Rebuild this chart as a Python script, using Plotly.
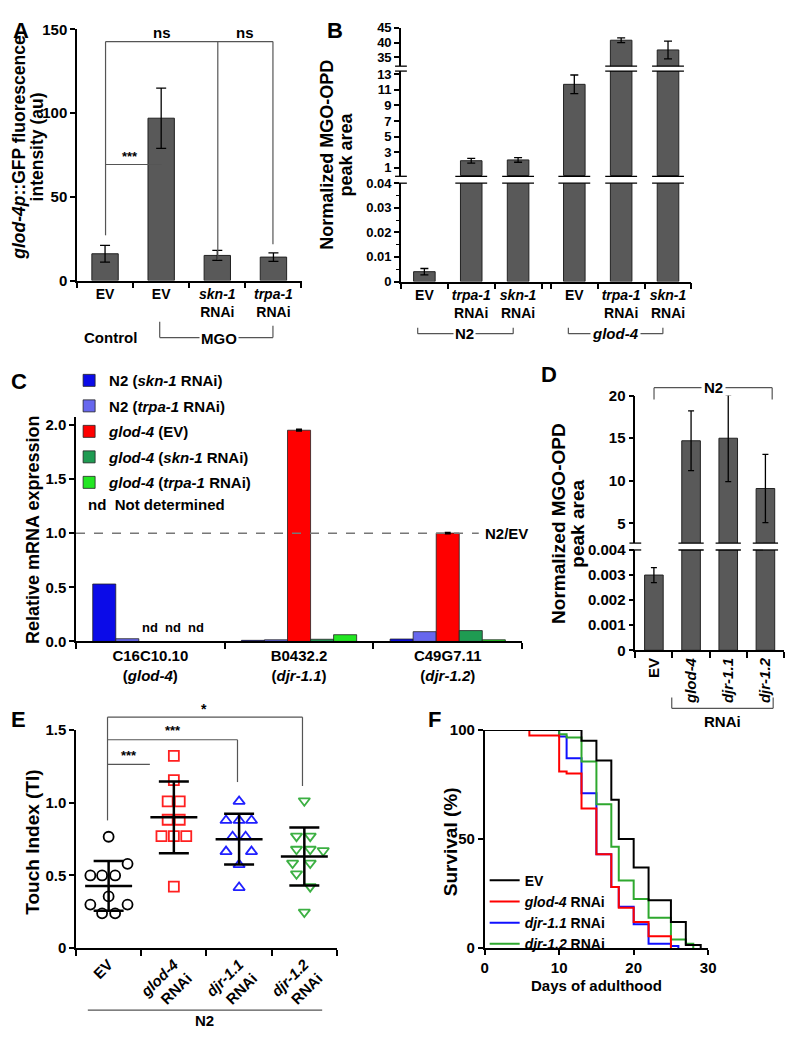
import numpy as np
import plotly.graph_objects as go

# ============================ DATA ============================
# Panel A
a_labels = ["EV", "EV", "<i>skn-1</i><br>RNAi", "<i>trpa-1</i><br>RNAi"]
a_values = [16, 97, 15, 14]
a_errors = [5, 18, 3, 2.5]

# Panel B
b_labels = ["EV", "<i>trpa-1</i><br>RNAi", "<i>skn-1</i><br>RNAi",
            "EV", "<i>trpa-1</i><br>RNAi", "<i>skn-1</i><br>RNAi"]
b_positions = [0, 1, 2, 3.2, 4.2, 5.2]
b_values = [0.004, 1.9, 2.0, 11.7, 40.8, 37.5]
b_errors = [0.0013, 0.3, 0.3, 1.2, 0.8, 3.0]

# Panel C
c_genes = ["C16C10.10<br>(<i>glod-4</i>)", "B0432.2<br>(<i>djr-1.1</i>)", "C49G7.11<br>(<i>djr-1.2</i>)"]
c_names = ["N2 (<i>skn-1</i> RNAi)", "N2 (<i>trpa-1</i> RNAi)", "<i>glod-4</i> (EV)",
           "<i>glod-4</i> (<i>skn-1</i> RNAi)", "<i>glod-4</i> (<i>trpa-1</i> RNAi)"]
c_n2_skn1 = [0.53, 0.010, 0.022]
c_n2_trpa1 = [0.025, 0.015, 0.090]
c_glod4_ev = [None, 1.95, 1.00]
c_glod4_skn1 = [None, 0.020, 0.100]
c_glod4_trpa1 = [None, 0.062, 0.015]
c_glod4_ev_err = [0, 0.006, 0.004]
c_colors = ["#0b0be8", "#6767ee", "#ff0000", "#1f9b52", "#22e622"]

# Panel D
d_labels = ["EV", "<i>glod-4</i>", "<i>djr-1.1</i>", "<i>djr-1.2</i>"]
d_values = [0.003, 14.7, 15.0, 9.1]
d_errors = [0.0003, 3.5, 5.1, 4.0]

# Panel E (touch index, individual animals)
e_labels = ["EV", "<i>glod-4</i><br>RNAi", "<i>djr-1.1</i><br>RNAi", "<i>djr-1.2</i><br>RNAi"]
e_ev = [0.766, 0.58, 0.50, 0.50, 0.50, 0.356, 0.30, 0.30, 0.24, 0.24]
e_ev_jit = [0, 0.29, -0.28, -0.1, 0.1, 0, -0.28, 0.29, -0.1, 0.1]
e_glod4 = [1.322, 1.155, 1.009, 1.009, 0.883, 0.883, 0.77, 0.77, 0.77, 0.423]
e_glod4_jit = [0, 0, -0.095, 0.09, -0.095, 0.09, -0.19, 0, 0.19, 0]
e_djr11 = [1.009, 0.878, 0.878, 0.878, 0.766, 0.766, 0.664, 0.664, 0.574, 0.417]
e_djr11_jit = [0, -0.2, 0, 0.19, -0.1, 0.1, -0.2, 0.19, 0, 0]
e_djr12 = [1.013, 0.77, 0.77, 0.68, 0.68, 0.67, 0.585, 0.585, 0.511, 0.423, 0.248]
e_djr12_jit = [0, -0.12, 0.09, -0.12, 0.09, 0.29, -0.18, 0.09, -0.12, 0.09, 0]

# Panel F (survival)
f_ev_days = [0, 13, 15, 17, 18, 20, 22, 25, 27, 29]
f_ev_surv = [100, 95, 86, 68, 50, 37, 22, 12, 1.5, 0]
f_glod4_days = [0, 6, 10, 11, 13, 15, 17, 18, 20, 22, 25]
f_glod4_surv = [100, 97.5, 81, 80, 64, 43, 28, 18.5, 12, 5.5, 0]
f_djr11_days = [0, 10, 11, 13, 15, 17, 18, 20, 22, 25, 26]
f_djr11_surv = [100, 97, 87, 71, 43, 28, 19, 11, 2, 1, 0]
f_djr12_days = [0, 10, 11, 13, 15, 17, 18, 20, 22, 25, 27, 28]
f_djr12_surv = [100, 98, 96.5, 85.5, 66, 46.5, 31, 22.5, 14, 4, 2, 0]

# ============================ LAYOUT HELPERS ============================
# The page keeps the browser's 8px body margin, so the figure is 784x1021
# and every page pixel position is shifted by 8px.
W, H = 784, 1021
OX, OY = 8, 8
FONT = "Arial, 'Liberation Sans', sans-serif"
BAR_GRAY = "#595959"
LINE_GRAY = "#555555"


def px(x):
    return (x - OX) / W


def py(y):
    return 1 - (y - OY) / H


def dx(x0, x1):
    return [max(0.0, px(x0)), min(1.0, px(x1))]


def dy(ytop, ybot):
    return [max(0.0, py(ybot)), min(1.0, py(ytop))]


def tfont(size=15):
    return dict(family=FONT, size=size, color="black", weight="bold")


def axis(**kw):
    base = dict(showline=True, linecolor="black", linewidth=1.5, ticks="outside",
                ticklen=5, tickwidth=1.5, tickcolor="black", showgrid=False,
                zeroline=False, tickfont=tfont(15), fixedrange=True)
    base.update(kw)
    return base


def cat_minor(vals):
    return dict(tickvals=vals, ticks="outside", ticklen=6, tickwidth=1.5, tickcolor="black")


def hidden_x(domain, rng, anchor):
    return dict(domain=domain, range=rng, visible=False, anchor=anchor, fixedrange=True)


shapes = []
annotations = []


def seg(x0, y0, x1, y1, color=LINE_GRAY, width=1.2, dash=None, xref="paper"):
    ln = dict(color=color, width=width)
    if dash:
        ln["dash"] = dash
    if xref == "paper":
        x0, x1 = px(x0), px(x1)
    shapes.append(dict(type="line", xref=xref, yref="paper", x0=x0, x1=x1,
                       y0=py(y0), y1=py(y1), line=ln, layer="above"))


def ann(x, y, text, size=15, **kw):
    d = dict(x=px(x), y=py(y), xref="paper", yref="paper", text=text, showarrow=False,
             font=tfont(size), xanchor="center", yanchor="middle")
    d.update(kw)
    annotations.append(d)


def vtitle(xs, y, lines, size):
    for x, t in zip(xs, lines):
        ann(x, y, t, size=size, textangle=-90)


fig = go.Figure()
layout = {}

# ============================ PANEL A ============================
a_x = list(range(len(a_values)))
fig.add_trace(go.Bar(x=a_x, y=a_values, width=0.47, marker=dict(color=BAR_GRAY, line=dict(color="#222", width=1)),
                     error_y=dict(type="data", array=a_errors, color="black", thickness=1.3, width=5),
                     xaxis="x", yaxis="y", showlegend=False))
layout["xaxis"] = axis(domain=dx(74, 302), range=[-0.5, 3.5], anchor="y", tickvals=a_x, ticktext=a_labels,
                       ticks="", ticklen=0, tickfont=tfont(14), minor=cat_minor([-0.5, 0.5, 1.5, 2.5, 3.5]))
layout["yaxis"] = axis(domain=dy(20.7, 276), range=[0, 150], anchor="x", tickvals=[0, 50, 100, 150])
vtitle([15, 33], 140, ["<i>glod-4p</i>::GFP fluorescence", "intensity (au)"], 17.5)
ann(8, 8, "A", size=22, xanchor="left", yanchor="top", borderpad=0)
# significance brackets
seg(103, 33, 273, 33)
seg(103, 33, 103, 230)
seg(217, 33, 217, 255)
seg(273, 33, 273, 239)
ann(160, 24, "ns")
ann(245, 24, "ns")
seg(103, 158, 160, 158)
ann(128, 150, "***", size=13)
# group labels
ann(108, 334, "Control")
seg(158, 318, 158, 334)
seg(158, 334, 273, 334)
seg(273, 322, 273, 334)
ann(218, 335, "MGO", bgcolor="white", borderpad=1)

# ============================ PANEL B (broken axis) ============================
b_segments = [  # (xaxis, yaxis, y-top px, y-bottom px, range)
    ("x2", "y2", 177, 277, [0, 0.04]),
    ("x3", "y3", 63, 170, [-0.1, 13.4]),
    ("x4", "y4", 19, 58, [32, 45]),
]
for xa, ya, _, _, rng in b_segments:
    vis = [v if v > max(rng[0], 0.1) or rng[0] == 0 else None for v in b_values]
    fig.add_trace(go.Bar(x=b_positions, y=vis, width=0.46,
                         marker=dict(color=BAR_GRAY, line=dict(color="#222", width=1)),
                         error_y=dict(type="data", array=b_errors, color="black", thickness=1.3, width=4),
                         xaxis=xa, yaxis=ya, showlegend=False))
b_dom = dx(403, 698)
b_rng = [-0.5, 5.7]
layout["xaxis2"] = axis(domain=b_dom, range=b_rng, anchor="y2", tickvals=b_positions, ticktext=b_labels,
                        ticks="", ticklen=0, tickfont=tfont(14),
                        minor=cat_minor([-0.5, 0.5, 1.5, 2.5, 2.7, 3.7, 4.7, 5.7]))
layout["xaxis3"] = hidden_x(b_dom, b_rng, "y3")
layout["xaxis4"] = hidden_x(b_dom, b_rng, "y4")
layout["yaxis2"] = axis(domain=dy(177, 277), range=[0, 0.04], anchor="x2", tickfont=tfont(13),
                        tickvals=[0, 0.01, 0.02, 0.03, 0.04], ticktext=["0", "0.01", "0.02", "0.03", "0.04"],
                        minor=dict(tickvals=[0.005, 0.015, 0.025, 0.035], ticks="outside", ticklen=3,
                                   tickwidth=1.2, tickcolor="black"))
layout["yaxis3"] = axis(domain=dy(63, 170), range=b_segments[1][4], anchor="x3", tickfont=tfont(13),
                        tickvals=[1, 3, 5, 7, 9, 11, 13])
layout["yaxis4"] = axis(domain=dy(19, 58), range=[32, 45], anchor="x4", tickfont=tfont(13),
                        tickvals=[35, 40, 45])
# break marks
for (lo, hi) in [(b_segments[0], b_segments[1]), (b_segments[1], b_segments[2])]:
    y_lo_top = lo[2]
    y_hi_bot = hi[3]
    for yy in (y_lo_top, y_hi_bot):
        seg(397, yy, 409, yy, color="black", width=1.3)
    for pos, v in zip(b_positions, b_values):
        if v > lo[4][1]:
            for yy in (y_lo_top, y_hi_bot):
                seg(pos - 0.34, yy, pos + 0.34, yy, color="black", width=1.3, xref="x2")
vtitle([328, 347], 148, ["Normalized MGO-OPD", "peak area"], 18)
ann(336, 8, "B", size=22, yanchor="top", borderpad=0)
seg(420, 324, 420, 330)
seg(420, 330, 517, 330)
seg(517, 324, 517, 330)
ann(468, 330, "N2", bgcolor="white", borderpad=1)
seg(573, 324, 573, 330)
seg(573, 330, 669, 330)
seg(669, 324, 669, 330)
ann(621, 330, "<i>glod-4</i>", bgcolor="white", borderpad=1)

# ============================ PANEL C ============================
c_series = [c_n2_skn1, c_n2_trpa1, c_glod4_ev, c_glod4_skn1, c_glod4_trpa1]
c_x = list(range(len(c_genes)))
for k, (name, vals, col) in enumerate(zip(c_names, c_series, c_colors)):
    kw = {}
    if k == 2:
        kw["error_y"] = dict(type="data", array=c_glod4_ev_err, color="black", thickness=2, width=3)
    fig.add_trace(go.Bar(x=c_x, y=vals, name=name, marker=dict(color=col, line=dict(color="#222", width=0.8)),
                         xaxis="x5", yaxis="y5", legend="legend", legendgroup="c%d" % k,
                         legendrank=k + 1, **kw))
layout["xaxis5"] = axis(domain=dx(73, 526), range=[-0.5, 2.5], anchor="y5", tickvals=c_x, ticktext=c_genes,
                        ticks="", ticklen=0, minor=cat_minor([-0.5, 0.5, 1.5, 2.5]))
layout["yaxis5"] = axis(domain=dy(415, 643), range=[0, 2.07], anchor="x5",
                        tickvals=[0, 0.5, 1.0, 1.5, 2.0], ticktext=["0.0", "0.5", "1.0", "1.5", "2.0"])
BARGAP = 0.225
bw = (1 - BARGAP) / len(c_series)
for gi, _ in enumerate(c_genes):
    for k, vals in enumerate(c_series):
        if vals[gi] is None:
            annotations.append(dict(x=gi - (1 - BARGAP) / 2 + (k + 0.5) * bw, y=0, xref="x5", yref="y5",
                                    text="nd", showarrow=False, yanchor="bottom", yshift=4,
                                    font=tfont(13)))
seg(73, 533, 482, 533, color="#777", width=1.5, dash="dash")
ann(486, 533, "N2/EV", xanchor="left")
ann(83, 504, "nd  Not determined", xanchor="left")
vtitle([30], 530, ["Relative mRNA expression"], 18)
ann(15, 379, "C", size=22)

# ============================ PANEL D (broken axis) ============================
d_segments = [("x6", "y6", [0, 0.004]), ("x7", "y7", [2.7, 20])]
d_x = list(range(len(d_values)))
for xa, ya, rng in d_segments:
    vis = [v if v > rng[0] else None for v in d_values]
    fig.add_trace(go.Bar(x=d_x, y=vis, width=0.5, marker=dict(color=BAR_GRAY, line=dict(color="#222", width=1)),
                         error_y=dict(type="data", array=d_errors, color="black", thickness=1.3, width=3),
                         xaxis=xa, yaxis=ya, showlegend=False))
d_dom = dx(641, 796)
layout["xaxis6"] = axis(domain=d_dom, range=[-0.5, 3.5], anchor="y6", tickvals=d_x, ticktext=d_labels,
                        tickangle=-90, ticks="", ticklen=0, minor=cat_minor([-0.5, 0.5, 1.5, 2.5, 3.5]))
layout["xaxis7"] = hidden_x(d_dom, [-0.5, 3.5], "y7")
layout["yaxis6"] = axis(domain=dy(550, 652), range=d_segments[0][2], anchor="x6",
                        tickvals=[0, 0.001, 0.002, 0.003, 0.004],
                        ticktext=["0", "0.001", "0.002", "0.003", "0.004"])
layout["yaxis7"] = axis(domain=dy(393, 543), range=d_segments[1][2], anchor="x7", tickvals=[5, 10, 15, 20])
for yy in (543, 550):
    seg(635, yy, 647, yy, color="black", width=1.3)
    for pos, v in zip(d_x, d_values):
        if v > d_segments[0][2][1]:
            seg(pos - 0.34, yy, pos + 0.34, yy, color="black", width=1.3, xref="x6")
vtitle([563, 582], 523, ["Normalized MGO-OPD", "peak area"], 19)
ann(553, 372, "D", size=22)
seg(660, 385, 660, 397)
seg(660, 385, 780, 385)
seg(780, 385, 780, 397)
ann(720, 385, "N2", bgcolor="white", borderpad=2)
seg(678, 700, 678, 711)
seg(678, 711, 781, 711)
seg(781, 700, 781, 711)
ann(730, 724, "RNAi")

# ============================ PANEL E ============================
e_groups = [(e_ev, e_ev_jit, "circle-open", "black"),
            (e_glod4, e_glod4_jit, "square-open", "#ff2020"),
            (e_djr11, e_djr11_jit, "triangle-up-open", "#2020ff"),
            (e_djr12, e_djr12_jit, "triangle-down-open", "#3cb043")]
for i, (vals, jit, sym, col) in enumerate(e_groups):
    vals = np.array(vals)
    fig.add_trace(go.Scatter(x=[i + j for j in jit], y=vals, mode="markers",
                             marker=dict(symbol=sym, size=10, color=col, line=dict(width=1.8, color=col)),
                             xaxis="x8", yaxis="y8", showlegend=False, cliponaxis=False))
    m = float(vals.mean())
    s = float(vals.std(ddof=1))
    fig.add_trace(go.Scatter(x=[i - 0.36, i + 0.36], y=[m, m], mode="lines", line=dict(color="black", width=2.5),
                             xaxis="x8", yaxis="y8", showlegend=False))
    fig.add_trace(go.Scatter(x=[i], y=[m], mode="markers", marker=dict(size=1, color="rgba(0,0,0,0)"),
                             error_y=dict(type="data", array=[s], color="black", thickness=2.5, width=15),
                             xaxis="x8", yaxis="y8", showlegend=False))
layout["xaxis8"] = axis(domain=dx(73, 338), range=[-0.5, 3.5], anchor="y8", tickvals=list(range(4)),
                        ticktext=e_labels, tickangle=-45, ticks="", ticklen=0,
                        minor=cat_minor([-0.5, 0.5, 1.5, 2.5, 3.5]))
layout["yaxis8"] = axis(domain=dy(733, 955), range=[0, 1.5], anchor="x8", tickvals=[0, 0.5, 1.0, 1.5],
                        ticktext=["0", "0.5", "1.0", "1.5"])
vtitle([28], 847, ["Touch Index (TI)"], 19)
ann(15, 722, "E", size=22)
seg(105, 720, 303, 720)
seg(105, 720, 105, 825)
seg(303, 720, 303, 790)
ann(203, 712, "*", size=14)
seg(105, 743, 237, 743)
seg(237, 743, 237, 786)
ann(172, 734, "***", size=13)
seg(105, 768, 148, 768)
ann(127, 759, "***", size=13)
seg(85, 1018, 323, 1018)
ann(203, 1028, "N2")

# ============================ PANEL F ============================
f_series = [  # draw order: black on top
    (f_djr11_days, f_djr11_surv, "<i>djr-1.1</i> RNAi", "#1010ff", 3),
    (f_djr12_days, f_djr12_surv, "<i>djr-1.2</i> RNAi", "#2ea82e", 4),
    (f_glod4_days, f_glod4_surv, "<i>glod-4</i> RNAi", "#ff0000", 2),
    (f_ev_days, f_ev_surv, "EV", "black", 1),
]
for days, surv, name, col, rank in f_series:
    fig.add_trace(go.Scatter(x=days, y=surv, mode="lines", line=dict(shape="hv", color=col, width=2),
                             name=name, legend="legend2", legendrank=rank, cliponaxis=False,
                             xaxis="x9", yaxis="y9"))
layout["xaxis9"] = axis(domain=dx(488, 715), range=[0, 30], anchor="y9", tickvals=[0, 10, 20, 30])
layout["yaxis9"] = axis(domain=dy(733, 955), range=[0, 100], anchor="x9", tickvals=[0, 50, 100])
vtitle([453], 847, ["Survival (%)"], 19)
ann(602, 993, "Days of adulthood")
ann(437, 722, "F", size=22)

# ============================ FINAL LAYOUT ============================
fig.update_layout(
    width=W, height=H, margin=dict(l=0, r=0, t=0, b=0),
    paper_bgcolor="white", plot_bgcolor="white",
    font=tfont(15),
    barmode="group", bargap=BARGAP, bargroupgap=0,
    shapes=shapes, annotations=annotations,
    legend=dict(x=px(66), y=py(361), xanchor="left", yanchor="top", font=tfont(15),
                bgcolor="rgba(0,0,0,0)", traceorder="grouped", tracegroupgap=3, itemclick=False),
    legend2=dict(x=px(488), y=py(870), xanchor="left", yanchor="top", font=tfont(14),
                 bgcolor="rgba(0,0,0,0)", traceorder="normal", itemclick=False),
    **layout,
)

fig.write_html("out.html", config={"displayModeBar": False})
